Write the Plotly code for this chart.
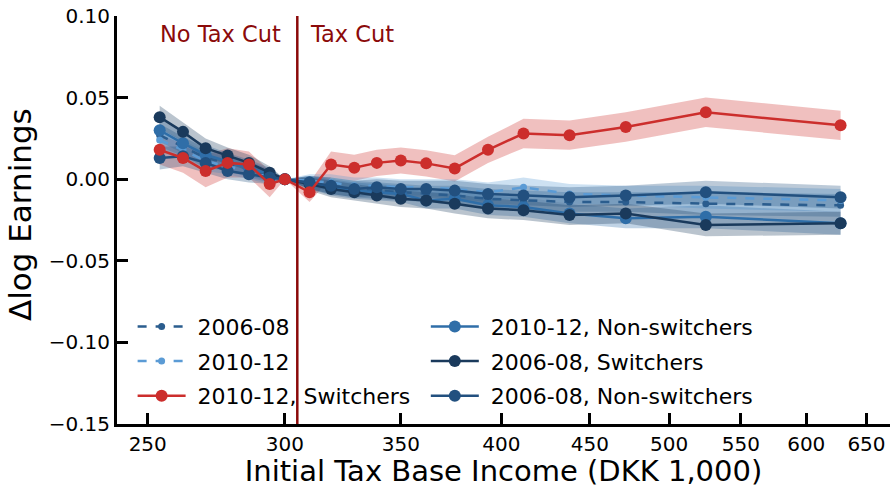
import math
import plotly.graph_objects as go

# Income bins (DKK 1,000) shared by every series
income = [254, 262, 270, 278, 286, 294, 300, 310, 319, 329,
          339, 350, 362, 376, 393, 412, 438, 472, 525, 628]

# Point estimates of the change in log earnings
d0608 = [0.027, 0.020, 0.013, 0.010, 0.006, 0.002, 0.000, -0.002, -0.004, -0.006,
         -0.007, -0.008, -0.009, -0.010, -0.012, -0.013, -0.014, -0.014, -0.015, -0.016]
d1012 = [0.024, 0.018, 0.011, 0.008, 0.005, 0.001, 0.000, -0.001, -0.002, -0.004,
         -0.004, -0.005, -0.005, -0.006, -0.008, -0.005, -0.009, -0.010, -0.011, -0.013]
d1012_sw = [0.018, 0.013, 0.005, 0.010, 0.009, -0.003, 0.000, -0.008, 0.009, 0.007,
            0.010, 0.0115, 0.0097, 0.0066, 0.018, 0.028, 0.027, 0.032, 0.041, 0.033]
d1012_ns = [0.030, 0.022, 0.015, 0.011, 0.007, 0.003, 0.000, -0.002, -0.005, -0.007,
            -0.008, -0.009, -0.013, -0.012, -0.016, -0.017, -0.021, -0.024, -0.023, -0.027]
d0608_sw = [0.038, 0.029, 0.019, 0.0145, 0.010, 0.004, 0.000, -0.003, -0.006, -0.008,
            -0.010, -0.012, -0.013, -0.015, -0.018, -0.019, -0.022, -0.021, -0.028, -0.027]
d0608_ns = [0.013, 0.014, 0.010, 0.005, 0.003, 0.001, 0.000, -0.002, -0.004, -0.006,
            -0.005, -0.006, -0.006, -0.007, -0.009, -0.010, -0.011, -0.010, -0.008, -0.011]

# Half-widths of the confidence bands
ci_blue = [0.007, 0.006, 0.006, 0.005, 0.005, 0.004, 0.000, 0.004, 0.005, 0.005,
           0.005, 0.005, 0.005, 0.006, 0.006, 0.006, 0.006, 0.006, 0.007, 0.007]
ci_red = [0.009, 0.009, 0.010, 0.009, 0.008, 0.008, 0.000, 0.006, 0.008, 0.008,
          0.008, 0.008, 0.008, 0.008, 0.008, 0.009, 0.009, 0.009, 0.009, 0.009]

kink = 305
tick_vals = [250, 300, 350, 400, 450, 500, 550, 600, 650]

series = [
    # name, values, ci, colour, dash, marker size, legend
    ("2006-08", d0608, ci_blue, "#2b5d8e", "dash", 7, "legend"),
    ("2010-12", d1012, ci_blue, "#5b9bd5", "dash", 7, "legend"),
    ("2010-12, Non-switchers", d1012_ns, ci_blue, "#2f6ea8", "solid", 12, "legend2"),
    ("2006-08, Switchers", d0608_sw, ci_blue, "#1a3a5c", "solid", 12, "legend2"),
    ("2006-08, Non-switchers", d0608_ns, ci_blue, "#22507f", "solid", 12, "legend2"),
    ("2010-12, Switchers", d1012_sw, ci_red, "#cc2e2c", "solid", 12, "legend"),
]


def rgba(hex_col, a):
    h = hex_col.lstrip("#")
    r, g, b = int(h[0:2], 16), int(h[2:4], 16), int(h[4:6], 16)
    return f"rgba({r},{g},{b},{a})"


fig = go.Figure()

# Confidence bands: red underneath, blue on top
band_order = [series[5]] + series[:5]
for name, vals, ci, col, dash, ms, lg in band_order:
    upper = [v + c for v, c in zip(vals, ci)]
    lower = [v - c for v, c in zip(vals, ci)]
    fig.add_trace(go.Scatter(
        x=income + income[::-1], y=upper + lower[::-1],
        fill="toself", fillcolor=rgba(col, 0.3), line=dict(width=0),
        mode="lines", hoverinfo="skip", showlegend=False))

# Lines with markers
legend_rank = {"2006-08": 1, "2010-12": 2, "2010-12, Switchers": 3,
               "2010-12, Non-switchers": 1, "2006-08, Switchers": 2,
               "2006-08, Non-switchers": 3}
for name, vals, ci, col, dash, ms, lg in series:
    fig.add_trace(go.Scatter(
        x=income, y=vals, name="\u00a0" + name, mode="lines+markers",
        line=dict(color=col, width=2.5, dash=dash),
        marker=dict(color=col, size=ms),
        legend=lg, legendrank=legend_rank[name], legendgroup=name))

fig.add_shape(type="line", x0=kink, x1=kink, xref="x", y0=0, y1=1, yref="paper",
              line=dict(color="#8b0a0a", width=2.5))

# Regime labels either side of the kink (log axis: annotation x in log10 units)
fig.add_annotation(x=math.log10(kink), xref="x", y=0.089, yref="y", text="No Tax Cut",
                   showarrow=False, xanchor="right", xshift=-14,
                   font=dict(size=22.5, color="#8b0a0a"))
fig.add_annotation(x=math.log10(kink), xref="x", y=0.089, yref="y", text="Tax Cut",
                   showarrow=False, xanchor="left", xshift=11,
                   font=dict(size=22.5, color="#8b0a0a"))

font_family = "DejaVu Sans"

# Y-axis title
fig.add_annotation(x=-0.1255, xref="paper", y=0.5145, yref="paper",
                   text="Δlog Earnings", textangle=-90, showarrow=False,
                   xanchor="center", yanchor="middle",
                   font=dict(size=31, color="black", family=font_family))

legend_style = dict(font=dict(size=22, color="black", family=font_family),
                    bgcolor="rgba(0,0,0,0)", itemwidth=48, tracegroupgap=3,
                    yanchor="top", xanchor="left", traceorder="grouped")

fig.update_layout(
    width=891, height=488,
    margin=dict(l=117, r=1, t=16, b=58),
    paper_bgcolor="white", plot_bgcolor="white",
    font=dict(family=font_family, color="black"),
    legend=dict(x=0.0202, y=0.29, **legend_style),
    legend2=dict(x=0.3995, y=0.29, **legend_style),
    xaxis=dict(
        type="log", range=[2.3802, 2.8265],
        tickvals=tick_vals, ticktext=[str(v) for v in tick_vals],
        ticks="inside", ticklen=11, tickwidth=2.5, tickcolor="black",
        showline=True, linecolor="black", linewidth=3,
        showgrid=False, zeroline=False,
        tickfont=dict(size=20, family=font_family),
        title=dict(text="Initial Tax Base Income (DKK 1,000)",
                   font=dict(size=29, family=font_family), standoff=11),
    ),
    yaxis=dict(
        range=[-0.15, 0.10], tickvals=[-0.15, -0.10, -0.05, 0.0, 0.05, 0.10],
        tickformat=".2f",
        ticks="inside", ticklen=11, tickwidth=2.5, tickcolor="black",
        showline=True, linecolor="black", linewidth=3,
        showgrid=False, zeroline=False,
        tickfont=dict(size=20, family=font_family),
    ),
)

fig.write_html("out.html")
